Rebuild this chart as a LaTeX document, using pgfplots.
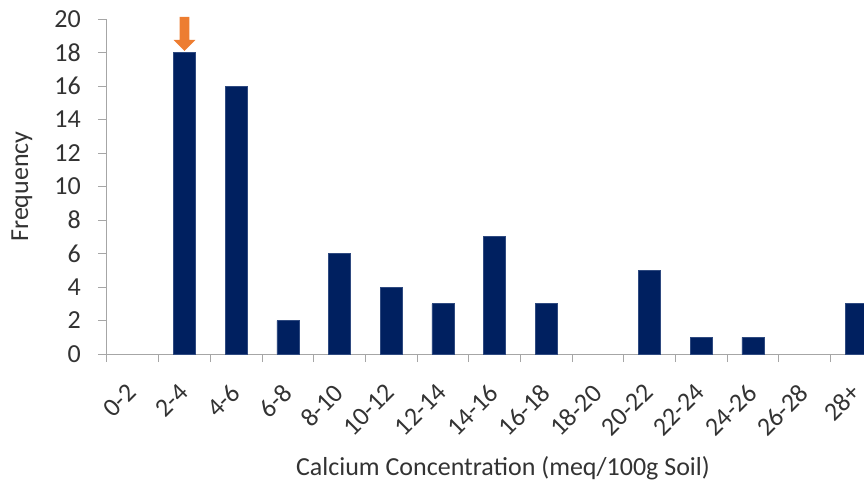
\documentclass[border=0pt]{standalone}
\usepackage{fontspec}
\setmainfont{Carlito}
\usepackage{pgfplots}
\pgfplotsset{compat=1.18}
\definecolor{barblue}{HTML}{002060}
\definecolor{baredge}{HTML}{2F4A80}
\definecolor{arroworange}{HTML}{ED7D31}
\definecolor{axgray}{HTML}{A6A6A6}
\definecolor{txt}{HTML}{333333}
\pgfplotstableread{
x y
1 18
2 16
3 2
4 6
5 4
6 3
7 7
8 3
10 5
11 1
12 1
14 3
}\bardata
\begin{document}
\begin{tikzpicture}
\begin{axis}[
  name=ax,
  scale only axis, width=757pt, height=335pt,
  xmin=-0.5, xmax=14.15, ymin=0, ymax=20,
  axis x line*=bottom, axis y line*=left,
  axis line style={axgray, line width=1pt},
  ytick={0,2,...,20},
  xtick={0,...,14},
  xticklabels={0-2,2-4,4-6,6-8,8-10,10-12,12-14,14-16,16-18,18-20,20-22,22-24,24-26,26-28,28+},
  minor xtick={-0.5,0.5,...,13.5},
  major x tick style={draw=none},
  tick align=outside,
  major tick length=9pt, minor tick length=8pt,
  tick style={axgray, line width=1pt},
  font=\fontsize{26}{31}\selectfont,
  ticklabel style={font=\fontsize{26}{31}\selectfont, text=txt},
  /pgf/number format/assume math mode=true,
  xticklabel style={xshift=-7pt, yshift=-19pt, rotate=45, anchor=north east, inner sep=0pt},
  yticklabel style={anchor=east, inner sep=0pt, xshift=-17pt},
  xlabel={Calcium Concentration (meq/100g Soil)},
  ylabel={Frequency},
  every axis x label/.style={at={(axis description cs:0.5231,-0.3403)}, anchor=center, text=txt},
  every axis y label/.style={at={(axis description cs:-0.1123,0.5)}, rotate=90, anchor=center, text=txt},
  clip=true,
]
\addplot[ybar, bar width=22pt, bar shift=0pt, fill=barblue, draw=baredge, line width=0.6pt] table[x=x,y=y] {\bardata};
\coordinate (a1) at (axis cs:0.9035,20.12);
\coordinate (a2) at (axis cs:1.0965,20.12);
\coordinate (a3) at (axis cs:1.0965,18.75);
\coordinate (a4) at (axis cs:1.212,18.75);
\coordinate (a5) at (axis cs:1,18.09);
\coordinate (a6) at (axis cs:0.788,18.75);
\coordinate (a7) at (axis cs:0.9035,18.75);
\end{axis}
\fill[arroworange] (a1) -- (a2) -- (a3) -- (a4) -- (a5) -- (a6) -- (a7) -- cycle;
\pgfresetboundingbox
\path ([shift={(-107pt,-131pt)}]ax.south west) rectangle ([shift={(757pt,354pt)}]ax.south west);
\end{tikzpicture}
\end{document}
